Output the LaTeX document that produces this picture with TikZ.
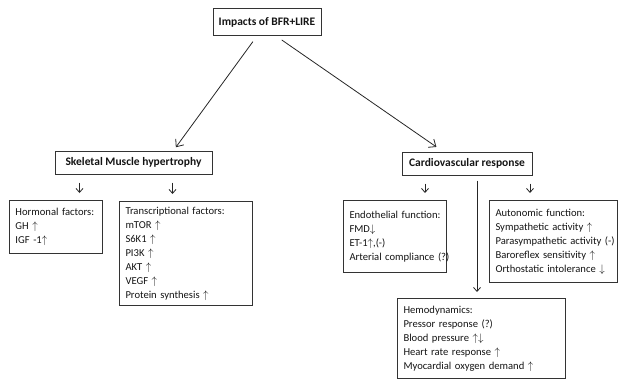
\documentclass[tikz,border=0pt]{standalone}
\usepackage{fontspec}
\setmainfont{Carlito}
\usetikzlibrary{positioning, arrows.meta}
\newcommand{\incr}{ $\uparrow$}
\newcommand{\decr}{$\downarrow$}
\newcommand{\rows}[1]{\begin{tabular}{@{}l@{}}#1\end{tabular}}
\tikzset{headbox/.style={draw=black!80,line width=1pt,font=\bfseries\fontsize{11.5}{14}\selectfont,inner sep=2pt},
         factorbox/.style={draw=black!80,line width=1pt,anchor=north west,align=left,inner xsep=6pt,inner ysep=0pt,
                           font=\fontsize{10.6}{14}\selectfont},
         link/.style={-{Straight Barb[length=6pt,width=10pt]},line width=0.8pt,black!85},
         tick/.style={-{Straight Barb[length=4pt,width=7pt]},line width=0.8pt,black!85,shorten <=8pt,shorten >=7pt},
        }

\begin{document}
\begin{tikzpicture}[x=1pt,y=-1pt,text=black!92]
        \useasboundingbox (0,0) rectangle (619,380);

        \node[headbox,minimum width=108pt,minimum height=27pt](impact)at(267,22){Impacts of BFR+LIRE};
        \node[headbox,minimum width=157pt,minimum height=23pt](skeletal)at(133.5,162.5){Skeletal Muscle hypertrophy};
        \node[headbox,minimum width=130pt,minimum height=23pt](cardio)at(467,163.5){Cardiovascular response};

        \node[factorbox,text width=81pt,minimum height=53pt](hormonal)at(9,200){\rows{Hormonal factors:\\GH\incr\\IGF -1$\uparrow$}};
        \node[factorbox,text width=121pt,minimum height=104pt](transcr)at(119,201){\rows{Transcriptional factors:\\mTOR\incr\\S6K1\incr\\PI3K\incr\\AKT\incr\\VEGF\incr\\Protein synthesis\incr}};
        \node[factorbox,text width=91pt,minimum height=72pt](endo)at(343,200){\rows{Endothelial function:\\FMD\decr\\ET-1$\uparrow$,(-)\\Arterial compliance (?)}};
        \node[factorbox,text width=116pt,minimum height=82pt](autonomic)at(489,200){\rows{Autonomic function:\\Sympathetic activity\incr\\Parasympathetic activity (-)\\Baroreflex sensitivity\incr\\Orthostatic intolerance \decr}};
        \node[factorbox,text width=156pt,minimum height=80pt](hemo)at(397,298){\rows{Hemodynamics:\\Pressor response (?)\\Blood pressure\incr\decr\\Heart rate response\incr\\Myocardial oxygen demand\incr}};

        % main branches
        \draw[link,shorten <=7pt,shorten >=4pt]([xshift=-10pt]impact.south)--([xshift=40pt]skeletal.north);
        \draw[link,shorten <=7pt,shorten >=8pt]([xshift=9pt]impact.south)--([xshift=-24pt]cardio.north);

        \draw[tick]([xshift=25pt]skeletal.south west)--([xshift=25pt]skeletal.south west |- hormonal.north);
        \draw[tick]([xshift=-40pt]skeletal.south east)--([xshift=-40pt]skeletal.south east |- transcr.north);

        \draw[tick]([xshift=-42pt]cardio.south)--([xshift=-42pt]cardio.south |- endo.north);
        \draw[tick]([xshift=63pt]cardio.south)--([xshift=63pt]cardio.south |- autonomic.north);
        \draw[tick,shorten <=5pt,shorten >=6pt]([xshift=10pt]cardio.south)--([xshift=10pt]cardio.south |- hemo.north);
    \end{tikzpicture}
\end{document}
